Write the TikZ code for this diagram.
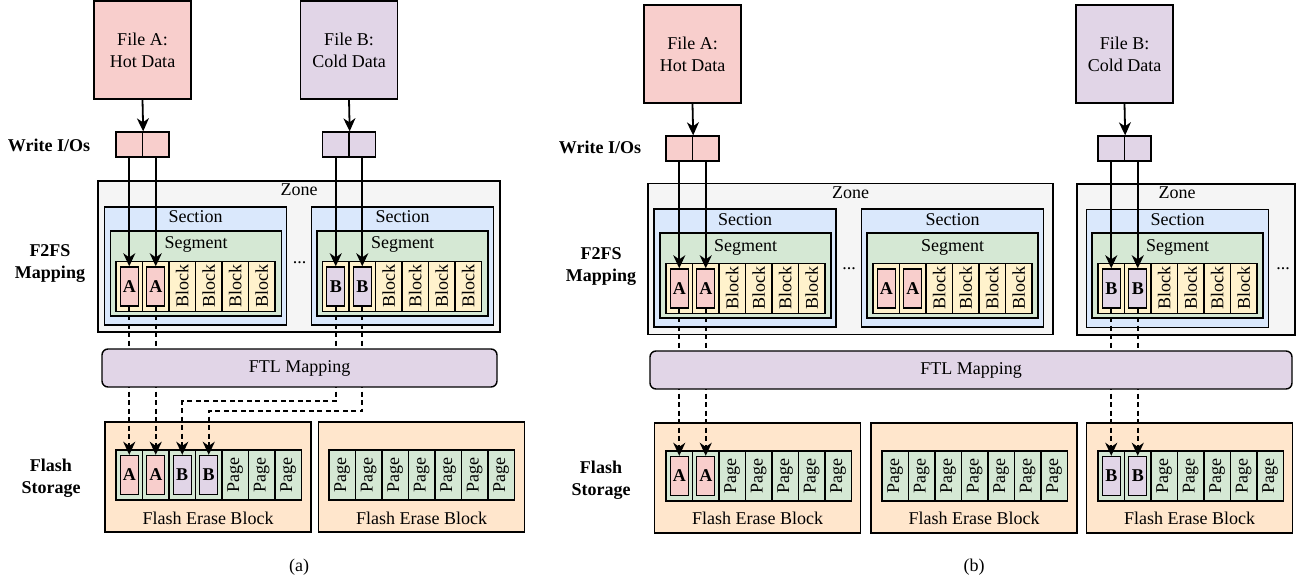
\documentclass[tikz,border=0pt]{standalone}
\usepackage{fontspec}
\setmainfont{Liberation Serif}
\usetikzlibrary{arrows.meta}

\definecolor{hot}{HTML}{F8CECC}
\definecolor{cold}{HTML}{E1D5E7}
\definecolor{zonefill}{HTML}{F5F5F5}
\definecolor{sectfill}{HTML}{DAE8FC}
\definecolor{segfill}{HTML}{D5E8D4}
\definecolor{blkfill}{HTML}{FFF2CC}
\definecolor{erasefill}{HTML}{FFE6CC}

\begin{document}
\begin{tikzpicture}
	[
	x=1pt, y=-1pt,
	align=center,
	font=\fontsize{18}{22}\selectfont,
	box/.style={draw, line width=1.4pt, inner sep=0pt},
	file/.style={box, minimum width=97pt, minimum height=98pt},
	wio/.style={box, minimum width=26.5pt, minimum height=25pt},
	zone/.style={box, fill=zonefill, minimum height=151pt},
	sect/.style={box, fill=sectfill, minimum width=182pt, minimum height=118pt},
	seg/.style={box, fill=segfill, minimum width=171pt, minimum height=85pt},
	blk/.style={box, fill=blkfill, rotate=90, minimum width=50pt, minimum height=26.5pt},
	pg/.style={box, fill=segfill, rotate=90, minimum width=50pt, minimum height=26.5pt},
	dat/.style={box, minimum width=18pt, minimum height=39pt, font=\fontsize{18}{22}\selectfont\bfseries},
	ftl/.style={box, fill=cold, rounded corners=6pt, minimum height=38pt},
	erase/.style={box, fill=erasefill, minimum width=206pt, minimum height=110pt},
	lbl/.style={font=\fontsize{18}{22}\selectfont\bfseries},
	txt/.style={anchor=base, inner sep=0pt},
	wr/.style={line width=1.8pt, -{Stealth[length=13pt, width=12pt, inset=4pt]}},
	map/.style={wr, dash pattern=on 5pt off 3.5pt},
	]
		\useasboundingbox (0,0) rectangle (1299,585);

		% ===== (a) =====
		% files and write I/Os
		\node[file, fill=hot]	(a-fa) at 	( 142.5,  50 ) {File A:\\Hot Data};
		\node[file, fill=cold]	(a-fb) at 	( 349.0,  50 ) {File B:\\Cold Data};
		\node[wio, fill=hot]	(a-wa1) at 	( 129.25, 144.5 ) {};
		\node[wio, fill=hot]	(a-wa2) at 	( 155.75, 144.5 ) {};
		\node[wio, fill=cold]	(a-wb1) at 	( 335.75, 144.5 ) {};
		\node[wio, fill=cold]	(a-wb2) at 	( 362.25, 144.5 ) {};

		% zone / sections / segments
		\node[zone, minimum width=402pt] (a-z) at ( 299.0, 256.5 ) {};
		\node[txt] (a-zt) at 		( 299.0, 196 ) {Zone};
		\node[sect] (a-s1) at 		( 195.5, 266 ) {};
		\node[sect] (a-s2) at 		( 402.5, 266 ) {};
		\node[txt] (a-s1t) at 		( 195.5, 223 ) {Section};
		\node[txt] (a-s2t) at 		( 402.5, 223 ) {Section};
		\node[seg] (a-g1) at 		( 196.0, 273.5 ) {};
		\node[seg] (a-g2) at 		( 402.5, 273.5 ) {};
		\node[txt] (a-g1t) at 		( 196.0, 249 ) {Segment};
		\node[txt] (a-g2t) at 		( 402.5, 249 ) {Segment};
		\node[txt] (a-dots) at 		( 299.5, 263.5 ) {...};
		\foreach \i in {1,...,6} {
			\node[blk] (a-k1-\i) at ({116+26.5*(\i-0.5)}, 286.5) {\ifnum\i>2 Block\fi};
			\node[blk] (a-k2-\i) at ({322.5+26.5*(\i-0.5)}, 286.5) {\ifnum\i>2 Block\fi};
		}
		\node[dat, fill=hot]	(a-d1) at (a-k1-1) {A};
		\node[dat, fill=hot]	(a-d2) at (a-k1-2) {A};
		\node[dat, fill=cold]	(a-d3) at (a-k2-1) {B};
		\node[dat, fill=cold]	(a-d4) at (a-k2-2) {B};

		% flash storage
		\node[erase] (a-e1) at 		( 208.0, 477 ) {};
		\node[erase] (a-e2) at 		( 421.5, 477 ) {};
		\node[txt] (a-e1t) at 		( 208.0, 524 ) {Flash Erase Block};
		\node[txt] (a-e2t) at 		( 421.5, 524 ) {Flash Erase Block};
		\foreach \i in {1,...,7} {
			\node[pg] (a-p1-\i) at ({116+26.5*(\i-0.5)}, 475) {\ifnum\i>4 Page\fi};
			\node[pg] (a-p2-\i) at ({329+26.5*(\i-0.5)}, 475) {Page};
		}
		\node[dat, fill=hot]	(a-q1) at (a-p1-1) {A};
		\node[dat, fill=hot]	(a-q2) at (a-p1-2) {A};
		\node[dat, fill=cold]	(a-q3) at (a-p1-3) {B};
		\node[dat, fill=cold]	(a-q4) at (a-p1-4) {B};

		% FTL mapping
		\foreach \from/\to in {a-d1/a-q1,a-d2/a-q2} \draw[map] (\from.south) -- (\to.north);
		\draw[map] (a-d3.south) |- (a-q3 |- 0,401) -- (a-q3.north);
		\draw[map] (a-d4.south) |- (a-q4 |- 0,411) -- (a-q4.north);
		\node[ftl, minimum width=395pt] (a-ftl) at ( 299.5, 368 ) {FTL Mapping};

		% writes
		\foreach \from/\to in {a-fa/a-wa1,a-fb/a-wb1} \draw[wr] (\from.south) -- (\to.north east);
		\foreach \from/\to in {a-wa1/a-d1,a-wa2/a-d2,a-wb1/a-d3,a-wb2/a-d4} \draw[wr] (\from.south) -- (\to.north);

		% row labels
		\node[lbl] (a-lw) at 		(  49, 145 ) {Write I/Os};
		\node[lbl] (a-lf) at 		(  50, 264 ) {F2FS\\Mapping};
		\node[lbl] (a-ls) at 		(  51, 478.5 ) {Flash\\Storage};
		\node (a-cap) at 		( 299, 567 ) {(a)};

		% ===== (b) =====
		% files and write I/Os
		\node[file, fill=hot]	(b-fa) at 	(  692.5,  54 ) {File A:\\Hot Data};
		\node[file, fill=cold]	(b-fb) at 	( 1124.5,  54 ) {File B:\\Cold Data};
		\node[wio, fill=hot]	(b-wa1) at 	(  679.25, 148.5 ) {};
		\node[wio, fill=hot]	(b-wa2) at 	(  705.75, 148.5 ) {};
		\node[wio, fill=cold]	(b-wb1) at 	( 1111.25, 148.5 ) {};
		\node[wio, fill=cold]	(b-wb2) at 	( 1137.75, 148.5 ) {};

		% zones / sections / segments
		\node[zone, minimum width=405pt] (b-z1) at (  850.5, 259 ) {};
		\node[zone, minimum width=218pt] (b-z2) at ( 1186.0, 259.5 ) {};
		\node[txt] (b-z1t) at 		(  850.5, 199 ) {Zone};
		\node[txt] (b-z2t) at 		( 1177.0, 199 ) {Zone};
		\node[sect] (b-s1) at 		(  745.0, 268 ) {};
		\node[sect] (b-s2) at 		(  952.5, 268 ) {};
		\node[sect] (b-s3) at 		( 1177.5, 268.5 ) {};
		\node[txt] (b-s1t) at 		(  745.0, 226 ) {Section};
		\node[txt] (b-s2t) at 		(  952.5, 226 ) {Section};
		\node[txt] (b-s3t) at 		( 1177.5, 226 ) {Section};
		\node[seg] (b-g1) at 		(  745.5, 275.5 ) {};
		\node[seg] (b-g2) at 		(  952.5, 275.5 ) {};
		\node[seg] (b-g3) at 		( 1177.5, 275.5 ) {};
		\node[txt] (b-g1t) at 		(  745.5, 252 ) {Segment};
		\node[txt] (b-g2t) at 		(  952.5, 252 ) {Segment};
		\node[txt] (b-g3t) at 		( 1177.5, 252 ) {Segment};
		\node[txt] (b-dots1) at 	(  849.0, 270 ) {...};
		\node[txt] (b-dots2) at 	( 1283.0, 270 ) {...};
		\foreach \i in {1,...,6} {
			\node[blk] (b-k1-\i) at ({666+26.5*(\i-0.5)}, 288.5) {\ifnum\i>2 Block\fi};
			\node[blk] (b-k2-\i) at ({873+26.5*(\i-0.5)}, 288.5) {\ifnum\i>2 Block\fi};
			\node[blk] (b-k3-\i) at ({1098+26.5*(\i-0.5)}, 288.5) {\ifnum\i>2 Block\fi};
		}
		\node[dat, fill=hot]	(b-d1) at (b-k1-1) {A};
		\node[dat, fill=hot]	(b-d2) at (b-k1-2) {A};
		\node[dat, fill=hot]	(b-d3) at (b-k2-1) {A};
		\node[dat, fill=hot]	(b-d4) at (b-k2-2) {A};
		\node[dat, fill=cold]	(b-d5) at (b-k3-1) {B};
		\node[dat, fill=cold]	(b-d6) at (b-k3-2) {B};

		% flash storage
		\node[erase] (b-e1) at 		(  757.5, 478 ) {};
		\node[erase] (b-e2) at 		(  974.0, 478 ) {};
		\node[erase] (b-e3) at 		( 1189.5, 478 ) {};
		\node[txt] (b-e1t) at 		(  757.5, 524 ) {Flash Erase Block};
		\node[txt] (b-e2t) at 		(  974.0, 524 ) {Flash Erase Block};
		\node[txt] (b-e3t) at 		( 1189.5, 524 ) {Flash Erase Block};
		\foreach \i in {1,...,7} {
			\node[pg] (b-p1-\i) at ({666+26.5*(\i-0.5)}, 476) {\ifnum\i>2 Page\fi};
			\node[pg] (b-p2-\i) at ({882+26.5*(\i-0.5)}, 476) {Page};
			\node[pg] (b-p3-\i) at ({1098+26.5*(\i-0.5)}, 476) {\ifnum\i>2 Page\fi};
		}
		\node[dat, fill=hot]	(b-q1) at (b-p1-1) {A};
		\node[dat, fill=hot]	(b-q2) at (b-p1-2) {A};
		\node[dat, fill=cold]	(b-q3) at (b-p3-1) {B};
		\node[dat, fill=cold]	(b-q4) at (b-p3-2) {B};

		% FTL mapping
		\foreach \from/\to in {b-d1/b-q1,b-d2/b-q2,b-d5/b-q3,b-d6/b-q4} \draw[map] (\from.south) -- (\to.north);
		\node[ftl, minimum width=642pt] (b-ftl) at ( 971, 370 ) {FTL Mapping};

		% writes
		\foreach \from/\to in {b-fa/b-wa1,b-fb/b-wb1} \draw[wr] (\from.south) -- (\to.north east);
		\foreach \from/\to in {b-wa1/b-d1,b-wa2/b-d2,b-wb1/b-d5,b-wb2/b-d6} \draw[wr] (\from.south) -- (\to.north);

		% row labels
		\node[lbl] (b-lw) at 		( 600, 147 ) {Write I/Os};
		\node[lbl] (b-lf) at 		( 601, 266.5 ) {F2FS\\Mapping};
		\node[lbl] (b-ls) at 		( 601, 480 ) {Flash\\Storage};
		\node (b-cap) at 		( 974, 567 ) {(b)};

	\end{tikzpicture}
\end{document}
